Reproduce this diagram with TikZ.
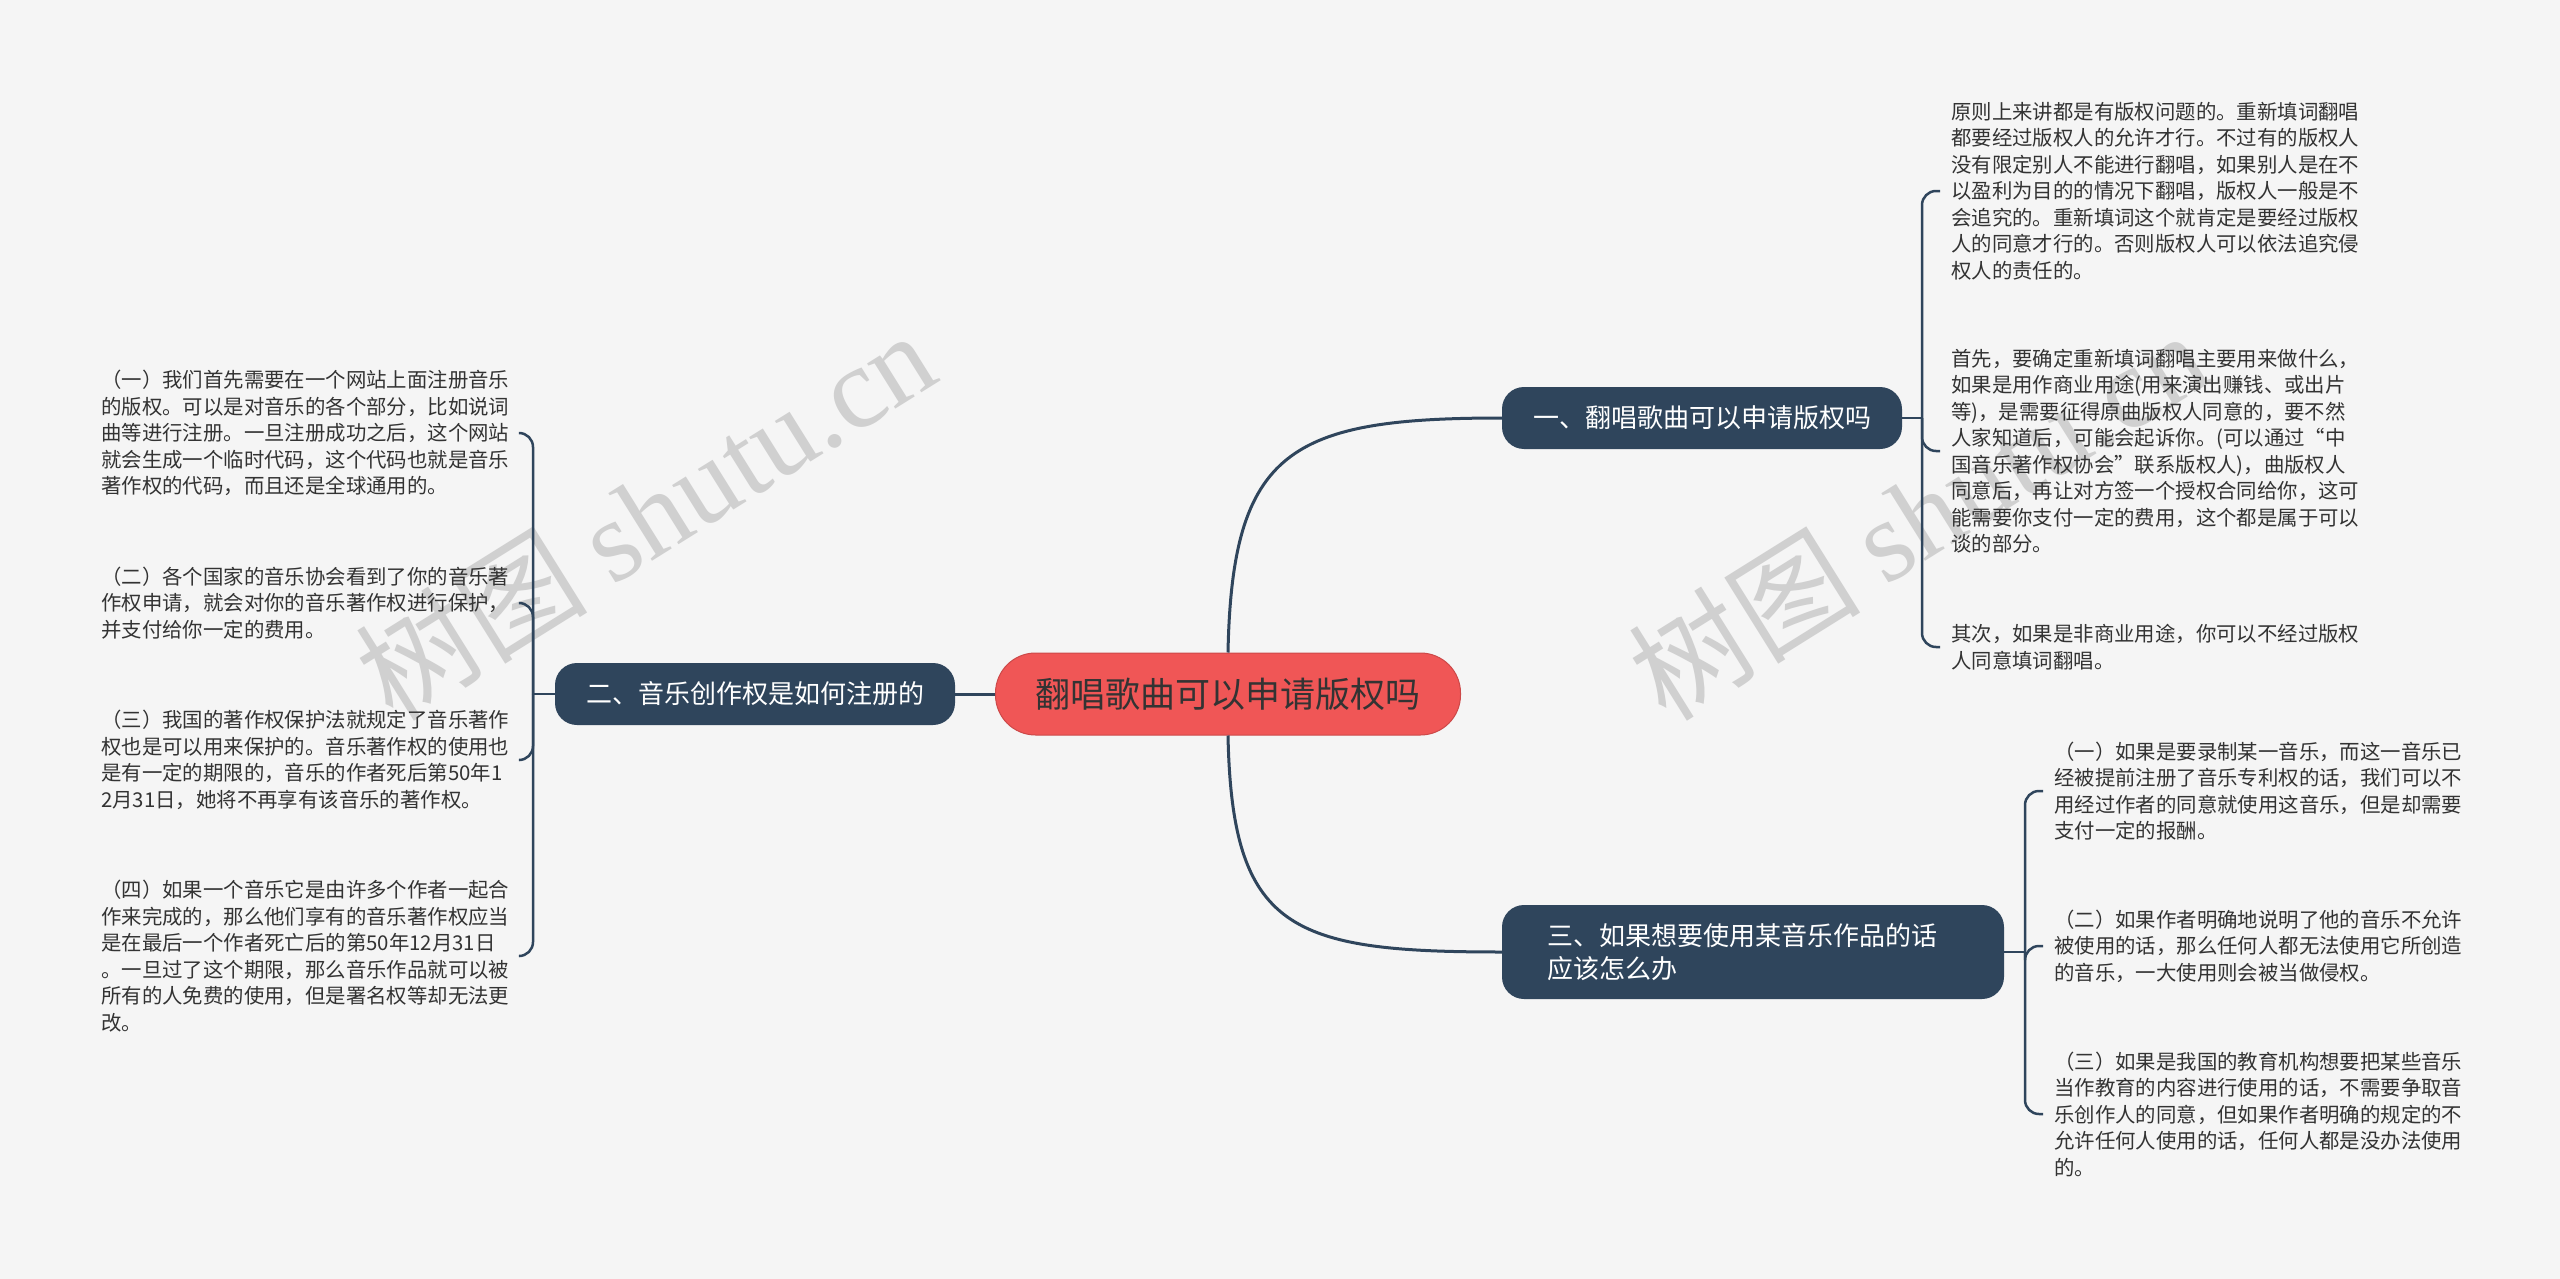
\documentclass[tikz,border=0pt]{standalone}
\usepackage{fontspec}
\setmainfont{Noto Sans CJK SC}
\newfontfamily\wmfont{Liberation Serif}
\newfontfamily\wmcjk{Noto Sans CJK SC}
\definecolor{mmBg}{RGB}{245,245,245}
\definecolor{mmNavy}{RGB}{47,69,92}
\definecolor{mmRed}{RGB}{240,86,86}
\definecolor{mmText}{RGB}{51,51,51}
\definecolor{mmWm}{RGB}{208,208,208}
\begin{document}
\begin{tikzpicture}[x=1pt,y=-1pt,
  root/.style={fill=mmRed, draw=mmRed!85!black, line width=1pt, rounded corners=40pt, minimum width=465pt, minimum height=82pt, inner sep=0pt, text=mmText, font=\fontsize{35}{42}\selectfont},
  branch/.style={fill=mmNavy, rounded corners=22pt, text=white, inner sep=0pt, font=\fontsize{26}{33}\selectfont},
  leaf/.style={inner sep=0pt, text width=410pt, align=left, anchor=west, text=mmText, font=\fontsize{20.4}{26.5}\selectfont},
  link/.style={draw=mmNavy, line width=3pt},
  leaflink/.style={draw=mmNavy, line width=2.5pt, rounded corners=14pt},
  watermark/.style={rotate=32, text=mmWm, font=\fontsize{116}{118}\selectfont}
]
\useasboundingbox[fill=mmBg] (0,0) rectangle (2560,1279);

% watermarks
\node[watermark] (wm1) at (645,514) {{\wmcjk 树图} {\wmfont shutu.cn}};
\node[watermark] (wm2) at (1918,514) {{\wmcjk 树图} {\wmfont shutu.cn}};

% main nodes
\node[root] (root) at (1228,694) {翻唱歌曲可以申请版权吗};
\node[branch, minimum width=400pt, minimum height=62pt] (b1) at (1702,418) {一、翻唱歌曲可以申请版权吗};
\node[branch, minimum width=400pt, minimum height=62pt] (b2) at (755,694) {二、音乐创作权是如何注册的};
\node[branch, text width=412pt, inner xsep=45pt, minimum height=94pt, align=left] (b3) at (1753,952) {三、如果想要使用某音乐作品的话\\应该怎么办};

% leaves of branch 1
\node[leaf] (t1) at (1951,191) {原则上来讲都是有版权问题的。重新填词翻唱\\都要经过版权人的允许才行。不过有的版权人\\没有限定别人不能进行翻唱，如果别人是在不\\以盈利为目的的情况下翻唱，版权人一般是不\\会追究的。重新填词这个就肯定是要经过版权\\人的同意才行的。否则版权人可以依法追究侵\\权人的责任的。};
\node[leaf] (t2) at (1951,451) {首先，要确定重新填词翻唱主要用来做什么，\\如果是用作商业用途(用来演出赚钱、或出片\\等)，是需要征得原曲版权人同意的，要不然\\人家知道后，可能会起诉你。(可以通过“中\\国音乐著作权协会”联系版权人)，曲版权人\\同意后，再让对方签一个授权合同给你，这可\\能需要你支付一定的费用，这个都是属于可以\\谈的部分。};
\node[leaf] (t3) at (1951,647) {其次，如果是非商业用途，你可以不经过版权\\人同意填词翻唱。};

% leaves of branch 3
\node[leaf] (r1) at (2054,791) {（一）如果是要录制某一音乐，而这一音乐已\\经被提前注册了音乐专利权的话，我们可以不\\用经过作者的同意就使用这音乐，但是却需要\\支付一定的报酬。};
\node[leaf] (r2) at (2054,946) {（二）如果作者明确地说明了他的音乐不允许\\被使用的话，那么任何人都无法使用它所创造\\的音乐，一大使用则会被当做侵权。};
\node[leaf] (r3) at (2054,1114) {（三）如果是我国的教育机构想要把某些音乐\\当作教育的内容进行使用的话，不需要争取音\\乐创作人的同意，但如果作者明确的规定的不\\允许任何人使用的话，任何人都是没办法使用\\的。};

% leaves of branch 2
\node[leaf] (l1) at (101,433) {（一）我们首先需要在一个网站上面注册音乐\\的版权。可以是对音乐的各个部分，比如说词\\曲等进行注册。一旦注册成功之后，这个网站\\就会生成一个临时代码，这个代码也就是音乐\\著作权的代码，而且还是全球通用的。};
\node[leaf] (l2) at (101,603) {（二）各个国家的音乐协会看到了你的音乐著\\作权申请，就会对你的音乐著作权进行保护，\\并支付给你一定的费用。};
\node[leaf] (l3) at (101,760) {（三）我国的著作权保护法就规定了音乐著作\\权也是可以用来保护的。音乐著作权的使用也\\是有一定的期限的，音乐的作者死后第50年1\\2月31日，她将不再享有该音乐的著作权。};
\node[leaf] (l4) at (101,956) {（四）如果一个音乐它是由许多个作者一起合\\作来完成的，那么他们享有的音乐著作权应当\\是在最后一个作者死亡后的第50年12月31日\\。一旦过了这个期限，那么音乐作品就可以被\\所有的人免费的使用，但是署名权等却无法更\\改。};

% main connectors
\draw[link] (root.north) .. controls (1232,450) and (1290,418) .. (b1.west);
\draw[link] (root.south) .. controls (1232,930) and (1290,952) .. (b3.west);
\draw[link] (root.west) -- (b2.east);

% branch 1 connectors
\coordinate (j1) at (1922,418);
\draw[link, line width=2.5pt] (b1.east) -- (j1);
\draw[leaflink] (j1) -- (j1 |- t1.west) -- ([xshift=-11pt]t1.west);
\draw[leaflink] (j1) -- (j1 |- t2.west) -- ([xshift=-11pt]t2.west);
\draw[leaflink] (j1) -- (j1 |- t3.west) -- ([xshift=-11pt]t3.west);

% branch 3 connectors
\coordinate (j3) at (2025,952);
\draw[link, line width=2.5pt] (b3.east) -- (j3);
\draw[leaflink] (j3) -- (j3 |- r1.west) -- ([xshift=-11pt]r1.west);
\draw[leaflink] (j3) -- (j3 |- r2.west) -- ([xshift=-11pt]r2.west);
\draw[leaflink] (j3) -- (j3 |- r3.west) -- ([xshift=-11pt]r3.west);

% branch 2 connectors
\coordinate (j2) at (533,694);
\draw[link, line width=2.5pt] (b2.west) -- (j2);
\draw[leaflink] (j2) -- (j2 |- l1.east) -- ([xshift=8pt]l1.east);
\draw[leaflink] (j2) -- (j2 |- l2.east) -- ([xshift=8pt]l2.east);
\draw[leaflink] (j2) -- (j2 |- l3.east) -- ([xshift=8pt]l3.east);
\draw[leaflink] (j2) -- (j2 |- l4.east) -- ([xshift=8pt]l4.east);
\end{tikzpicture}
\end{document}
